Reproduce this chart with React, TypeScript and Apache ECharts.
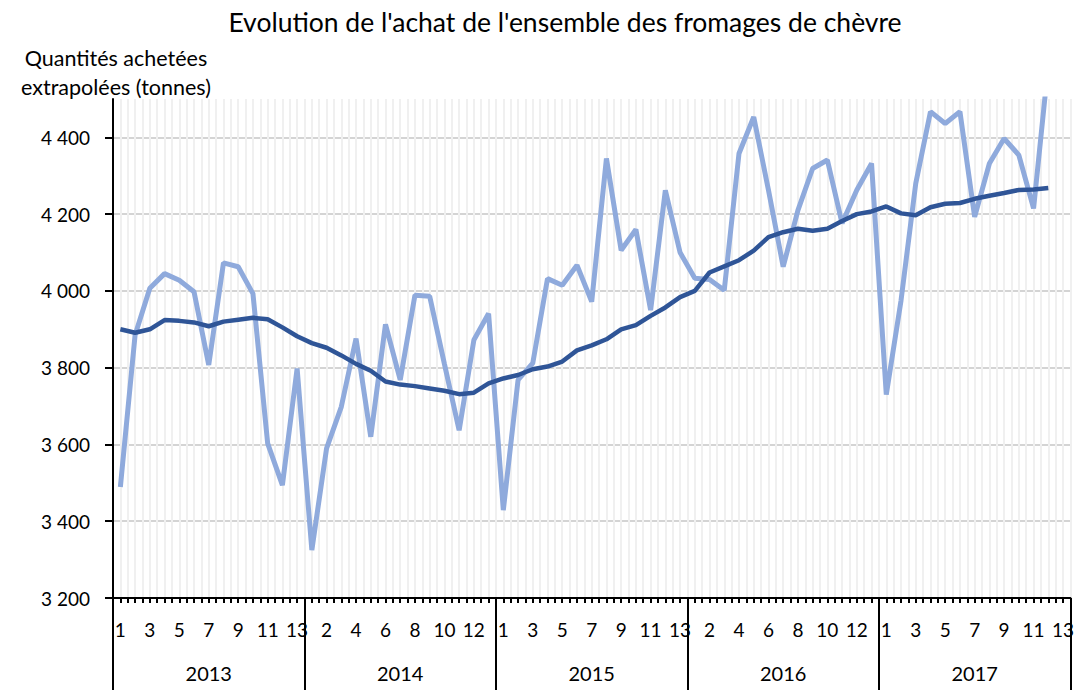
import React, { useEffect, useRef } from "react";
import * as echarts from "echarts";

const years = ["2013", "2014", "2015", "2016", "2017"];
const periods = ["1", "2", "3", "4", "5", "6", "7", "8", "9", "10", "11", "12", "13"];

// Achats mensuels (par période de 4 semaines), tonnes
const achats: (number | null)[] = [
  3489, 3885, 4007, 4045, 4028, 3998, 3807, 4073, 4063, 3993, 3603, 3494, 3798,
  3325, 3590, 3698, 3876, 3620, 3913, 3768, 3989, 3986, 3810, 3637, 3872, 3941,
  3429, 3768, 3812, 4032, 4015, 4067, 3972, 4345, 4106, 4160, 3950, 4262, 4100,
  4033, 4030, 4002, 4358, 4453, 4263, 4063, 4210, 4319, 4341, 4176, 4263, 4332,
  3730, 3975, 4280, 4467, 4436, 4467, 4193, 4332, 4397, 4354, 4215, 4590, null,
];

// Tendance (cumul mobile), tonnes
const tendance: (number | null)[] = [
  3900, 3891, 3900, 3924, 3922, 3918, 3908, 3920, 3925, 3930, 3926, 3905, 3882,
  3864, 3852, 3832, 3810, 3792, 3764, 3756, 3752, 3746, 3740, 3731, 3735, 3759,
  3772, 3781, 3796, 3803, 3816, 3845, 3858, 3874, 3900, 3911, 3935, 3957, 3984,
  4000, 4048, 4064, 4080, 4105, 4140, 4153, 4162, 4157, 4162, 4182, 4200, 4207,
  4220, 4202, 4197, 4218, 4227, 4229, 4240, 4248, 4255, 4263, 4264, 4268, null,
];

const yTicks = [3200, 3400, 3600, 3800, 4000, 4200, 4400];

const categories = years.flatMap((y) => periods.map((p) => `${y}-${p}`));
const halfSteps = categories.flatMap((c) => [`${c}-a`, `${c}-b`]);

const FONT = 'Lato, "Noto Sans", sans-serif';

function fmt(v: number) {
  const th = Math.floor(v / 1000);
  const rest = String(v % 1000).padStart(3, "0");
  return `${th} ${rest}`;
}

export default function App() {
  const ref = useRef<HTMLDivElement>(null);
  useEffect(() => {
    if (!ref.current) return;
    const chart = echarts.init(ref.current, null, { renderer: "svg" });
    chart.setOption({
      animation: false,
      backgroundColor: "#ffffff",
      textStyle: { fontFamily: FONT },
      graphic: [
        {
          type: "text",
          x: 565,
          y: 22,
          style: {
            text: "Evolution de l'achat de l'ensemble des fromages de chèvre",
            fontFamily: FONT,
            fontSize: 26.5,
            fill: "#000",
            textAlign: "center",
            textVerticalAlign: "middle",
          },
        },
        {
          type: "text",
          x: 116,
          y: 72,
          style: {
            text: "Quantités achetées\nextrapolées (tonnes)",
            fontFamily: FONT,
            fontSize: 21.5,
            lineHeight: 29,
            fill: "#000",
            textAlign: "center",
            textVerticalAlign: "middle",
          },
        },
      ],
      grid: { left: 113, right: 0, top: 99, bottom: 92, containLabel: false },
      xAxis: [
        {
          type: "category",
          data: categories,
          position: "bottom",
          boundaryGap: true,
          axisLine: { show: false },
          axisTick: { show: false },
          splitLine: { show: false },
          axisLabel: {
            interval: 1,
            margin: 22,
            fontSize: 19,
            color: "#000",
            fontFamily: FONT,
            formatter: (v: string) => v.split("-")[1],
          },
        },
        {
          type: "category",
          data: years,
          position: "bottom",
          boundaryGap: true,
          axisLine: { show: false },
          axisTick: {
            show: true,
            interval: 0,
            length: 92,
            lineStyle: { color: "#000", width: 2 },
          },
          splitLine: { show: false },
          axisLabel: { interval: 0, margin: 65, fontSize: 20, color: "#000", fontFamily: FONT },
        },
        {
          type: "category",
          data: halfSteps,
          position: "bottom",
          boundaryGap: true,
          z: 1,
          axisLine: { show: true, lineStyle: { color: "#000", width: 2 } },
          axisTick: {
            show: true,
            interval: 0,
            length: 5,
            lineStyle: { color: "#000", width: 2 },
          },
          axisLabel: { show: false },
          splitLine: {
            show: true,
            interval: 0,
            showMinLine: false,
            lineStyle: { color: "#f0f0f0", width: 2 },
          },
        },
      ],
      yAxis: {
        type: "value",
        min: 3200,
        max: 4500,
        interval: 200,
        axisLine: { show: true, lineStyle: { color: "#000", width: 2 } },
        axisTick: {
          show: true,
          length: 8,
          customValues: yTicks,
          lineStyle: { color: "#000", width: 2 },
        },
        axisLabel: {
          margin: 23,
          fontSize: 19,
          color: "#000",
          fontFamily: FONT,
          customValues: yTicks,
          formatter: (v: number) => fmt(v),
        },
        splitLine: {
          show: true,
          lineStyle: { color: "#d4d4d4", width: 2 },
        },
      },
      series: [
        {
          name: "Achats",
          type: "line",
          xAxisIndex: 0,
          data: achats,
          symbol: "none",
          clip: true,
          z: 3,
          lineStyle: { color: "#8faadc", width: 5 },
        },
        {
          name: "Tendance",
          type: "line",
          xAxisIndex: 0,
          data: tendance,
          symbol: "none",
          clip: true,
          z: 4,
          lineStyle: { color: "#2f5597", width: 4.5 },
        },
      ],
    });
    return () => chart.dispose();
  }, []);
  return (
    <div
      ref={ref}
      style={{ position: "fixed", left: 0, top: 0, width: 1077, height: 690 }}
    />
  );
}
